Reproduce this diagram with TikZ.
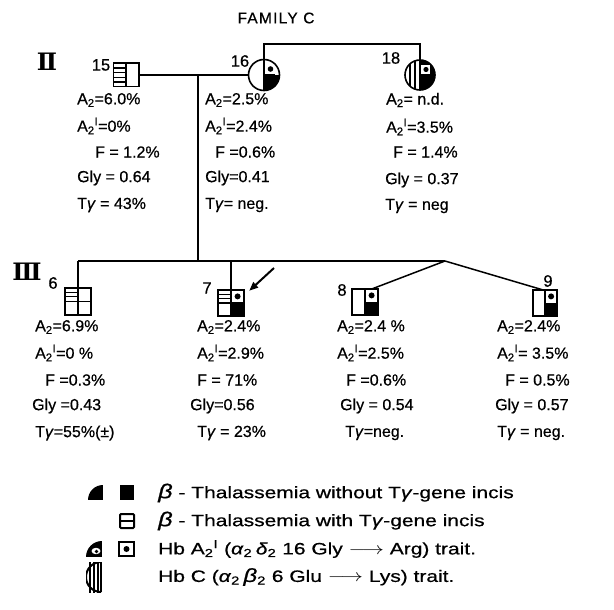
\documentclass[tikz,border=0pt]{standalone}
\usepackage{fontspec}
\setmainfont{Liberation Sans}[FakeBold=0.6]
\newfontfamily\romfont{DejaVu Serif}
\usetikzlibrary{calc,arrows.meta}
\newcommand{\gi}[1]{\textit{#1}}
\newcommand{\wide}[1]{\scalebox{1.27}[1]{#1}}
\begin{document}
\begin{tikzpicture}[x=1pt,y=-1pt,
  dat/.style={anchor=west,inner sep=0pt,font=\fontsize{16}{18}\selectfont},
  leg/.style={anchor=west,inner sep=0pt,font=\fontsize{16.5}{18}\selectfont},
  sqp/.style={rectangle,minimum width=25pt,minimum height=25pt,inner sep=0pt},
  cp/.style={circle,minimum size=31pt,inner sep=0pt},
  outl/.style={line width=1.6pt},
  stripe/.style={line width=1.1pt},
  rel/.style={line width=1.5pt},
  lbl/.style={inner sep=0pt,font=\fontsize{16.5}{18}\selectfont},
  gen/.style={inner sep=0pt,font=\romfont\bfseries\fontsize{24}{24}\selectfont}]
\useasboundingbox (0,0) rectangle (614,610);

% title
\node[inner sep=0pt,font=\fontsize{15.5}{18}\selectfont\addfontfeatures{LetterSpace=8}] (title) at (276,18) {FAMILY C};

% generation labels
\node[gen] (g2) at (47,62) {Ⅱ};
\node[gen] (g3) at (27,272) {Ⅲ};

% ---------- persons ----------
\node[sqp,minimum height=23pt] (p15) at (126,75) {};
\node[cp] (p16) at (264,75) {};
\node[cp,minimum size=30pt] (p18) at (420,75) {};
\node[sqp,minimum width=26pt,minimum height=27pt] (p6) at (78,301.5) {};
\node[sqp,minimum width=26pt,minimum height=26pt] (p7) at (231,303) {};
\node[sqp,minimum width=26pt,minimum height=26pt] (p8) at (365,302) {};
\node[sqp,minimum width=24pt,minimum height=26pt] (p9) at (545,303) {};

% p15: left half horizontal stripes
\foreach \f in {0.2,0.4,0.6,0.8}
  \draw[stripe] ($(p15.north west)!\f!(p15.south west)$) -- ($(p15.north)!\f!(p15.south)$);
\draw[outl] (p15.north) -- (p15.south);
\draw[outl] (p15.north west) rectangle (p15.south east);

% p16: bottom-right black, top-right dot
\begin{scope}
  \clip (p16.center) circle[radius=15.5pt];
  \fill (p16.center) rectangle ++(20,20);
\end{scope}
\fill ($(p16.center)+(6.5,-6)$) circle[radius=2.8pt];
\draw[line width=1.2pt] (p16.north) -- (p16.south);
\draw[line width=1.2pt] (p16.center) -- ($(p16.center)+(11,0)$);
\draw[outl] (p16.center) circle[radius=15.5pt];

% p18: left half vertical stripes, right half black with white notch + dot
\begin{scope}
  \clip (p18.center) circle[radius=15pt];
  \fill (p18.center) rectangle ++(20,20);
  \fill (p18.center) rectangle ++(20,-20);
  \fill[white] ($(p18.center)+(1,-1)$) rectangle ++(9,-9);
  \foreach \dx in {-5,-10}
    \draw[stripe] ($(p18.center)+(\dx,-20)$) -- ++(0,40);
\end{scope}
\fill ($(p18.center)+(6,-5.5)$) circle[radius=2.6pt];
\draw[line width=1.2pt] (p18.north) -- (p18.south);
\draw[outl] (p18.center) circle[radius=15pt];

% p6: quartered, top-left striped
\foreach \f in {0.1667,0.3333}
  \draw[stripe] ($(p6.north west)!\f!(p6.south west)$) -- ($(p6.north)!\f!(p6.south)$);
\draw[outl] (p6.north) -- (p6.south);
\draw[outl] (p6.west) -- (p6.east);
\draw[outl] (p6.north west) rectangle (p6.south east);

% p7: top-left striped, top-right dot, bottom-right black
\fill (p7.center) rectangle (p7.south east);
\foreach \f in {0.1667,0.3333}
  \draw[stripe] ($(p7.north west)!\f!(p7.south west)$) -- ($(p7.north)!\f!(p7.south)$);
\fill ($(p7.center)!0.5!(p7.north east)$) circle[radius=3pt];
\draw[outl] (p7.north) -- (p7.south);
\draw[outl] (p7.west) -- (p7.east);
\draw[outl] (p7.north west) rectangle (p7.south east);

% p8, p9: top-right dot, bottom-right black
\foreach \p in {p8,p9}{
  \fill (\p.center) rectangle (\p.south east);
  \fill ($(\p.center)!0.5!(\p.north east)$) circle[radius=3pt];
  \draw[outl] (\p.north) -- (\p.south);
  \draw[outl] (\p.north west) rectangle (\p.south east);
}

% person labels
\node[lbl] (l15) at (101,65) {15};
\node[lbl] (l16) at (240,61) {16};
\node[lbl] (l18) at (391,58) {18};
\node[lbl] (l6) at (53,283) {6};
\node[lbl] (l7) at (207,288) {7};
\node[lbl] (l8) at (342,290) {8};
\node[lbl] (l9) at (548,281) {9};

% ---------- connectors ----------
\coordinate (brk) at (0,44);
\coordinate (mid) at (198,75);
\coordinate (sib) at (198,261);
\coordinate (twin) at (445,261);
\draw[rel] (p15.east) -- (p16.west);
\draw[rel] (p16.north) -- (p16.north |- brk) -- (p18.north |- brk) -- (p18.north);
\draw[rel] (mid) -- (sib);
\draw[rel] (p6.north |- sib) -- (twin);
\draw[rel] (p6.north |- sib) -- (p6.north);
\draw[rel] (p7.north |- sib) -- (p7.north);
\draw[rel] (twin) -- ($(p8.north)!0.55!(p8.north east)$);
\draw[rel] (twin) -- ($(p9.north)!0.2!(p9.north west)$);
\coordinate (arrS) at (274,268);
\draw[line width=2pt,-{Triangle[length=9pt,width=7pt]}] (arrS) -- ($(p7.north east)+(5,1)$);

% ---------- data ----------
\node[dat] (a15) at (77,100) {A\textsubscript{2}=6.0\%};
\node[dat] (b15) at (77,126) {A\textsubscript{2}\textsuperscript{I}=0\%};
\node[dat] (c15) at (95,152) {F = 1.2\%};
\node[dat] (d15) at (77,178) {Gly = 0.64};
\node[dat] (e15) at (77,205) {T\gi{γ} = 43\%};

\node[dat] (a16) at (205,100) {A\textsubscript{2}=2.5\%};
\node[dat] (b16) at (205,126) {A\textsubscript{2}\textsuperscript{I}=2.4\%};
\node[dat] (c16) at (215,152) {F =0.6\%};
\node[dat] (d16) at (205,178) {Gly=0.41};
\node[dat] (e16) at (205,205) {T\gi{γ}= neg.};

\node[dat] (a18) at (386,100) {A\textsubscript{2}= n.d.};
\node[dat] (b18) at (386,127) {A\textsubscript{2}\textsuperscript{I}=3.5\%};
\node[dat] (c18) at (393,152) {F = 1.4\%};
\node[dat] (d18) at (385,180) {Gly = 0.37};
\node[dat] (e18) at (385,206) {T\gi{γ} = neg};

\node[dat] (a6) at (35,327) {A\textsubscript{2}=6.9\%};
\node[dat] (b6) at (35,353) {A\textsubscript{2}\textsuperscript{I}=0 \%};
\node[dat] (c6) at (45,380) {F =0.3\%};
\node[dat] (d6) at (32,406) {Gly =0.43};
\node[dat] (e6) at (35,433) {T\gi{γ}=55\%(±)};

\node[dat] (a7) at (197,327) {A\textsubscript{2}=2.4\%};
\node[dat] (b7) at (197,353) {A\textsubscript{2}\textsuperscript{I}=2.9\%};
\node[dat] (c7) at (197,380) {F = 71\%};
\node[dat] (d7) at (190,406) {Gly=0.56};
\node[dat] (e7) at (197,433) {T\gi{γ} = 23\%};

\node[dat] (a8) at (337,327) {A\textsubscript{2}=2.4 \%};
\node[dat] (b8) at (337,353) {A\textsubscript{2}\textsuperscript{I}=2.5\%};
\node[dat] (c8) at (346,380) {F =0.6\%};
\node[dat] (d8) at (340,406) {Gly = 0.54};
\node[dat] (e8) at (345,433) {T\gi{γ}=neg.};

\node[dat] (a9) at (497,327) {A\textsubscript{2}=2.4\%};
\node[dat] (b9) at (497,353) {A\textsubscript{2}\textsuperscript{I}= 3.5\%};
\node[dat] (c9) at (505,380) {F = 0.5\%};
\node[dat] (d9) at (495,406) {Gly = 0.57};
\node[dat] (e9) at (497,433) {T\gi{γ} = neg.};

% ---------- legend ----------
% row 1
\begin{scope}
  \clip (103,500) circle[radius=15pt];
  \fill (88,485) rectangle (103,500);
\end{scope}
\fill (120,485) rectangle (134,500);
\node[leg] (t1) at (158,493) {\wide{{\fontsize{20}{20}\selectfont\gi{β}} - Thalassemia without T\gi{γ}-gene incis}};
% row 2
\draw[line width=2pt,rounded corners=1pt] (120,514) rectangle (134,528);
\draw[line width=2pt] (120,521) -- (134,521);
\node[leg] (t2) at (158,521) {\wide{{\fontsize{20}{20}\selectfont\gi{β}} - Thalassemia with T\gi{γ}-gene incis}};
% row 3
\begin{scope}
  \clip (102,557) circle[radius=16pt];
  \fill (86,541) rectangle (102,557);
\end{scope}
\fill[white] (96,551) ellipse[x radius=4.5pt,y radius=3.2pt];
\fill (96.5,551.5) circle[radius=1.8pt];
\draw[line width=2pt] (119,542) rectangle (134,556);
\fill (126.5,549) circle[radius=3pt];
\node[leg] (t3) at (158,549) {\wide{Hb A\textsubscript{2}\textsuperscript{I} (\gi{α}\textsubscript{2}\,\gi{δ}\textsubscript{2} 16 Gly $\longrightarrow$ Arg) trait.}};
% row 4
\begin{scope}
  \clip (86,562) rectangle (101,592);
  \foreach \xx in {90,94,98}
    \draw[stripe] (\xx,560) -- (\xx,595);
  \draw[line width=2pt] (101,577) circle[radius=15pt];
\end{scope}
\draw[line width=2pt] (101,562) -- (101,592);
\node[leg] (t4) at (158,577) {\wide{Hb C (\gi{α}\textsubscript{2}\,{\fontsize{19}{20}\selectfont\gi{β}}\textsubscript{2} 6 Glu $\longrightarrow$ Lys) trait.}};
\end{tikzpicture}
\end{document}
